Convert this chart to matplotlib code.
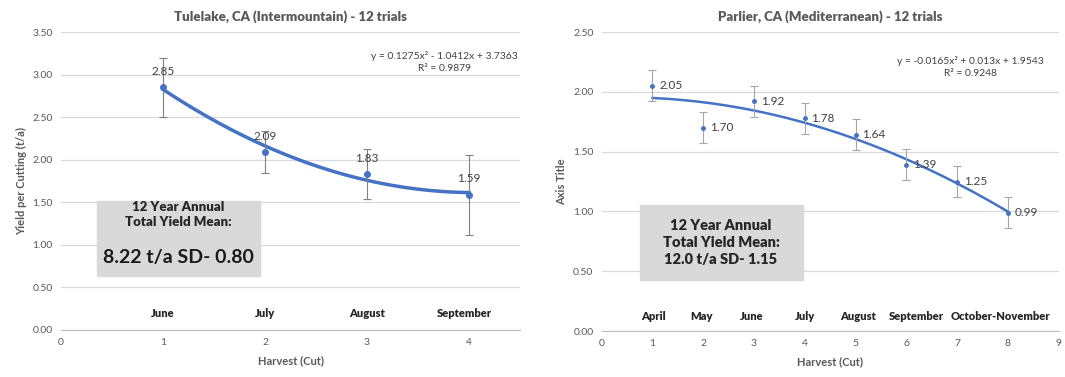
import numpy as np
import matplotlib
matplotlib.use("Agg")
import matplotlib.pyplot as plt
from matplotlib.patches import Rectangle

plt.rcParams['font.family'] = ['Lato', 'DejaVu Sans']

# Tulelake data
tl_cut = [1, 2, 3, 4]
tl_yield = [2.85, 2.09, 1.83, 1.59]
tl_err = [0.35, 0.25, 0.29, 0.47]
tl_months = ['June', 'July', 'August', 'September']
tl_month_x = [1, 2, 3, 3.95]

# Parlier data
pa_cut = [1, 2, 3, 4, 5, 6, 7, 8]
pa_yield = [2.05, 1.70, 1.92, 1.78, 1.64, 1.39, 1.25, 0.99]
pa_err = [0.13, 0.13, 0.13, 0.13, 0.13, 0.13, 0.13, 0.13]
pa_months = ['April', 'May', 'June', 'July', 'August', 'September', 'October-November']
pa_month_x = [1.02, 1.97, 2.95, 4.0, 5.04, 6.19, 7.86]

blue = '#4472C4'
grey_txt = '#595959'
dark = '#404040'

fig = plt.figure(figsize=(10.65, 3.77), dpi=100)
ax1 = fig.add_axes([0.0573, 0.125, 0.431, 0.79])
ax2 = fig.add_axes([0.565, 0.122, 0.429, 0.793])


def style(ax, xmax, ymax, ystep):
    ax.set_xlim(0, xmax)
    ax.set_ylim(0, ymax)
    ax.set_xticks(range(0, int(xmax) + 1))
    ax.set_yticks(np.arange(0, ymax + 0.001, ystep))
    ax.yaxis.set_major_formatter(matplotlib.ticker.FormatStrFormatter('%.2f'))
    ax.grid(axis='y', color='#d9d9d9', lw=0.9)
    ax.set_axisbelow(True)
    for s in ['top', 'right', 'left']:
        ax.spines[s].set_visible(False)
    ax.spines['bottom'].set_color('#bfbfbf')
    ax.tick_params(length=0, labelsize=7.5, labelcolor=grey_txt, pad=6)
    ax.set_xlabel('Harvest (Cut)', fontsize=8, color=grey_txt, fontweight='bold', labelpad=6)


# left panel
style(ax1, 4.5, 3.5, 0.5)
ax1.set_title('Tulelake, CA (Intermountain) - 12 trials', fontsize=9.5, color=grey_txt,
              fontweight='heavy', pad=8)
ax1.set_ylabel('Yield per Cutting (t/a)', fontsize=8, color=grey_txt, fontweight='bold')
ax1.errorbar(tl_cut, tl_yield, yerr=tl_err, fmt='o', color=blue, ms=4,
             ecolor='#808080', elinewidth=0.8, capsize=3, capthick=0.8, zorder=3)
c1 = np.polyfit(tl_cut, tl_yield, 2)
xs = np.linspace(1, 4, 100)
ax1.plot(xs, np.polyval(c1, xs), color=blue, lw=2.5, zorder=2)
for x, y in zip(tl_cut, tl_yield):
    ax1.text(x, y + 0.12, f'{y:.2f}', ha='center', va='bottom', fontsize=8.5, color=dark)
for x, m in zip(tl_month_x, tl_months):
    ax1.text(x, 0.19, m, ha='center', va='center', fontsize=8, color='#262626', fontweight='heavy')
ax1.text(4.48, 3.28, 'y = 0.1275x² - 1.0412x + 3.7363\nR² = 0.9879', ha='right', va='top',
         fontsize=7.4, color=dark, linespacing=1.5, multialignment='center')
ax1.add_patch(Rectangle((0.35, 0.63), 1.6, 0.89, color='#d9d9d9', zorder=4))
ax1.text(1.15, 1.36, '12 Year Annual\nTotal Yield Mean:', ha='center', va='center', fontsize=9.5,
         fontweight='heavy', color='#262626', zorder=5, linespacing=1.3)
ax1.text(1.15, 0.85, '8.22 t/a SD- 0.80', ha='center', va='center', fontsize=14,
         fontweight='bold', color='#1a1a1a', zorder=5)

# right panel
style(ax2, 9, 2.5, 0.5)
ax2.set_title('Parlier, CA (Mediterranean) - 12 trials', fontsize=9.5, color=grey_txt,
              fontweight='heavy', pad=8)
ax2.set_ylabel('Axis Title', fontsize=8, color=grey_txt, fontweight='bold')
ax2.errorbar(pa_cut, pa_yield, yerr=pa_err, fmt='o', color=blue, ms=2.5,
             ecolor='#a6a6a6', elinewidth=0.8, capsize=3, capthick=0.8, zorder=3)
c2 = np.polyfit(pa_cut, pa_yield, 2)
xs = np.linspace(1, 8, 100)
ax2.plot(xs, np.polyval(c2, xs), color=blue, lw=1.8, zorder=2)
for x, y in zip(pa_cut, pa_yield):
    ax2.text(x + 0.13, y, f'{y:.2f}', ha='left', va='center', fontsize=8.5, color=dark)
for x, m in zip(pa_month_x, pa_months):
    ax2.text(x, 0.12, m, ha='center', va='center', fontsize=8, color='#262626', fontweight='heavy')
ax2.text(8.7, 2.3, 'y = -0.0165x² + 0.013x + 1.9543\nR² = 0.9248', ha='right', va='top',
         fontsize=7.4, color=dark, linespacing=1.5, multialignment='center')
ax2.add_patch(Rectangle((0.75, 0.43), 3.21, 0.62, color='#d9d9d9', zorder=4))
ax2.text(2.35, 0.74, '12 Year Annual\nTotal Yield Mean:\n12.0 t/a SD- 1.15', ha='center',
         va='center', fontsize=10.5, fontweight='heavy', color='#262626', zorder=5, linespacing=1.4)

fig.savefig('out.png', dpi=100)
